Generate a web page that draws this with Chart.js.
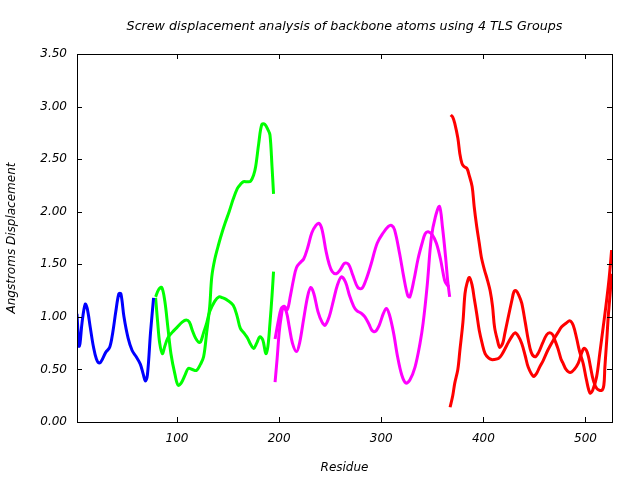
<!DOCTYPE html>
<html>
<head>
<meta charset="utf-8">
<script src="https://cdn.jsdelivr.net/npm/chart.js@4/dist/chart.umd.min.js"></script>
<style>
html,body{margin:0;padding:0;background:#fff;}
#wrap{width:640px;height:480px;position:relative;}
</style>
</head>
<body>
<div id="wrap"><canvas id="c" width="640" height="480"></canvas></div>
<script>
// ---- Data (residue, displacement) ----
const titleText = "Screw displacement analysis of backbone atoms using 4 TLS Groups";
const xTickValues = [100, 200, 300, 400, 500];
const yTickValues = [0, 0.5, 1, 1.5, 2, 2.5, 3, 3.5];

const group1X = [2,3,4,5,7,10,12,15,18,21,24,27,30,34,37,40,43,45,48,52,56,60,64,67,69,71,74,77];
const group1Y = [1.03,0.85,0.72,0.75,0.95,1.12,1.08,0.9,0.72,0.6,0.56,0.6,0.66,0.71,0.85,1.05,1.22,1.22,1.0,0.8,0.68,0.62,0.55,0.45,0.39,0.45,0.85,1.18];

const group2aX = [79,82,85,88,91,94,98,101,104,108,111,115,119,123,126,129,132,134,137,141,144,147,151,155,159,162,165,169,172,175,177,180,183,186,189,191,193,194.5];
const group2aY = [1.19,1.26,1.28,1.15,0.9,0.65,0.45,0.35,0.37,0.45,0.51,0.5,0.49,0.55,0.62,0.85,1.1,1.38,1.55,1.7,1.8,1.89,2.0,2.12,2.22,2.26,2.285,2.285,2.29,2.35,2.43,2.65,2.83,2.83,2.78,2.73,2.43,2.17];
const group2bX = [79,81,83,85.6,88,91,95,100,105,109,112,115,118,121,123,126,129,132,137,141,145,149,155,159,162,166,169,172,175,178,181,184,187,189,191,193,194.5];
const group2bY = [1.18,0.95,0.75,0.65,0.72,0.8,0.85,0.9,0.95,0.97,0.95,0.87,0.8,0.76,0.76,0.85,0.94,1.05,1.15,1.19,1.18,1.16,1.11,1.0,0.89,0.84,0.8,0.74,0.7,0.75,0.81,0.78,0.65,0.72,0.94,1.2,1.43];

const group3aX = [196,198,200,202,204,207,210,213,217,220,224,228,231,234,238,242,245,249,253,257,261,265,269,273,276,281,284,288,291,294,298,302,305,308,312,316,320,324,328,333,338,341,345,349,353,357,360,363,365,367];
const group3aY = [0.38,0.6,0.85,1.0,1.09,1.05,0.9,0.75,0.67,0.75,0.98,1.2,1.28,1.22,1.05,0.95,0.92,1.0,1.15,1.3,1.38,1.33,1.2,1.1,1.06,1.03,1.0,0.93,0.87,0.86,0.92,1.03,1.08,1.02,0.85,0.62,0.45,0.37,0.4,0.52,0.75,0.94,1.3,1.75,1.95,2.05,1.85,1.57,1.35,1.19];
const group3bX = [196,199,202,205,208,211,214,217,221,224,228,232,236,239,242,246,249,252,256,260,264,268,272,277,281,285,290,296,302,307,310,313,318,322,326,328,332,336,340,343,346,350,354,358,362,364,366,367];
const group3bY = [0.79,0.95,1.08,1.1,1.07,1.2,1.35,1.47,1.52,1.55,1.66,1.8,1.87,1.89,1.83,1.62,1.5,1.43,1.41,1.45,1.51,1.5,1.4,1.28,1.27,1.35,1.5,1.7,1.8,1.86,1.87,1.83,1.6,1.38,1.2,1.19,1.35,1.55,1.7,1.79,1.81,1.78,1.7,1.55,1.35,1.31,1.29,1.29];

const group4aX = [368,370,372,375,377,379,381,384,386,389,391,393.5,396,398,401,404,406.6,409,411,414,416,419,421,424,428,430,432,435,437.6,441,444,447,450.6,454,458,462,465,468,470,473,476,478,481,485,489,493,496,498.5,501,503,505,507.6,511,515.8,518,519,521,522.3,524,525.6];
const group4aY = [2.92,2.9,2.84,2.7,2.55,2.46,2.43,2.41,2.35,2.24,2.05,1.86,1.7,1.57,1.45,1.35,1.25,1.1,0.9,0.77,0.71,0.75,0.84,0.98,1.16,1.24,1.25,1.2,1.13,0.95,0.78,0.66,0.62,0.66,0.75,0.83,0.85,0.83,0.78,0.7,0.6,0.56,0.5,0.47,0.5,0.56,0.65,0.7,0.68,0.62,0.52,0.4,0.32,0.3,0.35,0.52,0.8,1.0,1.2,1.41];
const group4bX = [367.4,370,372,375,377,380,382,384,386.3,389,391,393.5,396,399,401.7,405,408,411,414.7,418,423,427,431,434,437.6,441,444,448.9,452,455,458.7,463,468.5,473,476.7,481,484.8,488,491.4,494,497.8,501,504.4,507,510.9,514,517.4,520,522.3,524,525.6];
const group4bY = [0.14,0.25,0.37,0.5,0.68,0.95,1.22,1.32,1.375,1.3,1.18,1.03,0.87,0.74,0.65,0.61,0.594,0.595,0.603,0.64,0.73,0.8,0.848,0.82,0.746,0.63,0.52,0.435,0.46,0.52,0.587,0.68,0.778,0.85,0.905,0.94,0.962,0.92,0.794,0.68,0.556,0.4,0.276,0.3,0.429,0.65,0.905,1.1,1.286,1.45,1.635];

const seriesColors = ["#0000ff", "#00ff00", "#ff00ff", "#ff0000"];

function pts(xs, ys){ return xs.map((x,i)=>({x:x, y:ys[i]})); }
function ds(xs, ys, color){
  return {data: pts(xs, ys), borderColor: color, backgroundColor: color, borderWidth: 3,
          pointRadius: 0, showLine: true, fill: false, tension: 0.35, cubicInterpolationMode: 'default'};
}

const FONT = "'DejaVu Sans', sans-serif";

const frameTicks = {
  id: 'frameTicks',
  afterDraw(chart){
    const {ctx, chartArea: a, scales} = chart;
    ctx.save();
    ctx.strokeStyle = '#000';
    ctx.lineWidth = 1;
    ctx.strokeRect(Math.round(a.left)+0.5, Math.round(a.top)+0.5, Math.round(a.right-a.left), Math.round(a.bottom-a.top));
    const L = 5;
    ctx.beginPath();
    xTickValues.forEach(v=>{
      const p = Math.round(scales.x.getPixelForValue(v))+0.5;
      ctx.moveTo(p, a.bottom); ctx.lineTo(p, a.bottom-L);
      ctx.moveTo(p, a.top); ctx.lineTo(p, a.top+L);
    });
    yTickValues.forEach(v=>{
      const p = Math.round(scales.y.getPixelForValue(v))+0.5;
      ctx.moveTo(a.left, p); ctx.lineTo(a.left+L, p);
      ctx.moveTo(a.right, p); ctx.lineTo(a.right-L, p);
    });
    ctx.stroke();
    // title centred over the plot area
    ctx.fillStyle = '#000';
    ctx.font = "italic 12.7px " + FONT;
    ctx.textAlign = 'center';
    ctx.textBaseline = 'middle';
    ctx.fillText(titleText, (a.left + a.right) / 2, 27);
    ctx.restore();
  }
};

new Chart(document.getElementById('c'), {
  type: 'scatter',
  data: {
    datasets: [
      ds(group1X, group1Y, seriesColors[0]),
      ds(group2aX, group2aY, seriesColors[1]),
      ds(group2bX, group2bY, seriesColors[1]),
      ds(group3aX, group3aY, seriesColors[2]),
      ds(group3bX, group3bY, seriesColors[2]),
      ds(group4aX, group4aY, seriesColors[3]),
      ds(group4bX, group4bY, seriesColors[3])
    ]
  },
  options: {
    responsive: false,
    animation: false,
    layout: {padding: {left: 0, right: 28, top: 54, bottom: 0}},
    plugins: {
      legend: {display: false},
      tooltip: {enabled: false},
      title: {display: false}
    },
    scales: {
      x: {
        type: 'linear', min: 2, max: 526,
        grid: {display: false, drawTicks: false},
        border: {display: false},
        afterBuildTicks: s => { s.ticks = xTickValues.map(v=>({value:v})); },
        ticks: {color: '#000', font: {family: FONT, size: 12, style: 'italic'}, padding: 10,
                maxRotation: 0, autoSkip: false, callback: v => String(v)},
        title: {display: true, text: 'Residue', color: '#000',
                font: {family: FONT, size: 12, style: 'italic'}, padding: {top: 4, bottom: 5}},
        afterFit: s => { s.height = 58; }
      },
      y: {
        type: 'linear', min: 0, max: 3.5,
        grid: {display: false, drawTicks: false},
        border: {display: false},
        afterBuildTicks: s => { s.ticks = yTickValues.map(v=>({value:v})); },
        ticks: {color: '#000', font: {family: FONT, size: 12, style: 'italic'}, padding: 10,
                autoSkip: false, callback: v => Number(v).toFixed(2)},
        title: {display: true, text: 'Angstroms Displacement', color: '#000',
                font: {family: FONT, size: 12, style: 'italic'}, padding: {top: 5, bottom: 4}},
        afterFit: s => { s.width = 77; }
      }
    }
  },
  plugins: [frameTicks]
});
</script>
</body>
</html>
